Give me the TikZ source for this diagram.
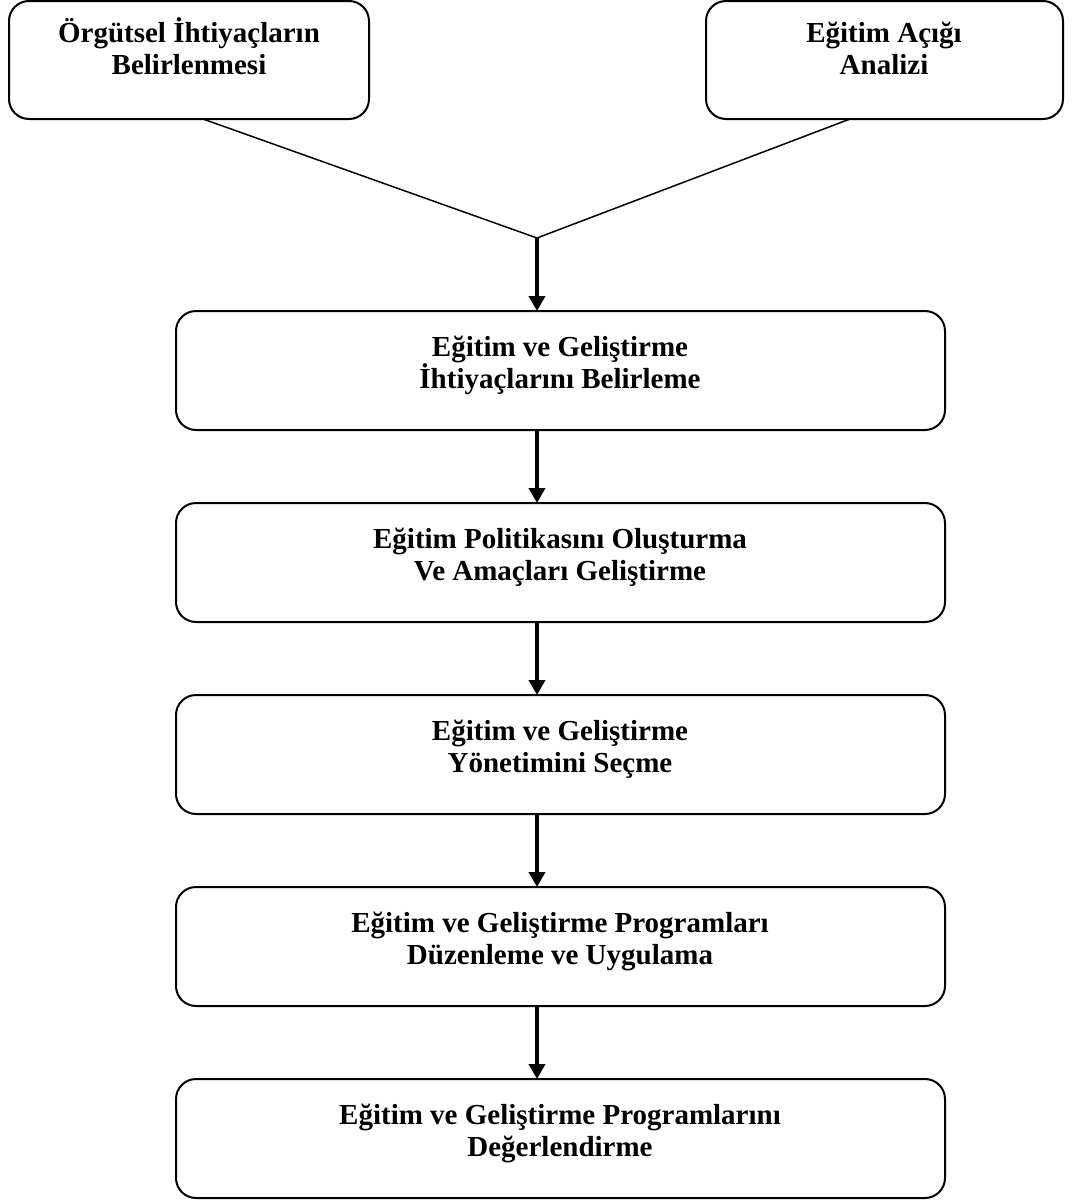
\documentclass[tikz,border=0pt]{standalone}
\usepackage{fontspec}
\setmainfont{Liberation Serif}
\usetikzlibrary{arrows.meta}
\begin{document}
\begin{tikzpicture}[x=1pt,y=-1pt,
  box/.style={draw=black, line width=2pt, rounded corners=20pt, fill=white,
    inner sep=0pt, outer sep=0pt},
  txt/.style={align=center, inner sep=0pt, anchor=base,
    font=\bfseries\fontsize{29}{32}\selectfont},
  link/.style={draw=black, line width=1.5pt},
  flow/.style={draw=black, line width=4.5pt,
    -{Triangle[width=16pt,length=15pt]}}]
  \useasboundingbox (0,0) rectangle (1072,1200);

  % source boxes (text anchored on the baseline of the last line)
  \node[box, minimum width=360pt, minimum height=118pt] (src1) at (189,60) {};
  \node[box, minimum width=357pt, minimum height=118pt] (src2) at (884.5,60) {};
  \node[txt] (srct1) at (189,74.5) {Örgütsel İhtiyaçların\\Belirlenmesi};
  \node[txt] (srct2) at (884,74.5) {Eğitim Açığı\\Analizi};

  % process steps
  \foreach \n/\top in {s1/311, s2/503, s3/695, s4/887, s5/1079}{
    \node[box, minimum width=769pt, minimum height=119pt] (\n) at (560.5,\top+59.5) {};
  }
  \node[txt] (lt1) at (560,388) {Eğitim ve Geliştirme\\İhtiyaçlarını Belirleme};
  \node[txt] (lt2) at (560,580) {Eğitim Politikasını Oluşturma\\Ve Amaçları Geliştirme};
  \node[txt] (lt3) at (560,772) {Eğitim ve Geliştirme\\Yönetimini Seçme};
  \node[txt] (lt4) at (560,964) {Eğitim ve Geliştirme Programları\\Düzenleme ve Uygulama};
  \node[txt] (lt5) at (560,1156) {Eğitim ve Geliştirme Programlarını\\Değerlendirme};

  % merge of the two sources
  \coordinate (join) at (537,238);
  \draw[link] ([xshift=14pt]src1.south) -- (join);
  \draw[link] ([xshift=-34.5pt]src2.south) -- (join);

  % flow between steps
  \draw[flow] (join) -- (join |- s1.north);
  \draw[flow] (s1.south -| join) -- (s2.north -| join);
  \draw[flow] (s2.south -| join) -- (s3.north -| join);
  \draw[flow] (s3.south -| join) -- (s4.north -| join);
  \draw[flow] (s4.south -| join) -- (s5.north -| join);
\end{tikzpicture}
\end{document}
